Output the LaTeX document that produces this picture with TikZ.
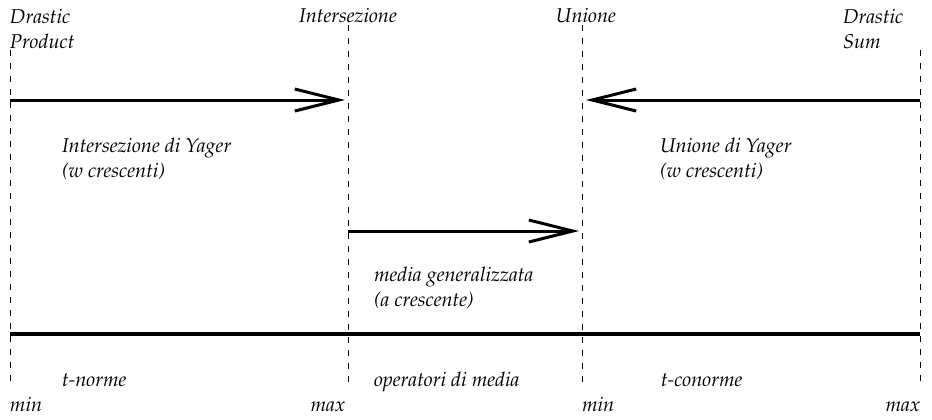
\documentclass[tikz,border=0pt]{standalone}
\usepackage[T1]{fontenc}
\usepackage{mathpazo}
\usetikzlibrary{arrows.meta}
\begin{document}
\begin{tikzpicture}[x=0.5pt,y=-0.5pt,
  every node/.style={inner sep=0pt,outer sep=0pt,font=\itshape\fontsize{10}{12.5}\selectfont,align=left},
  guide/.style={line width=0.4pt,dash pattern=on 3pt off 3.5pt},
  axis/.style={line width=1.6pt},
  trend/.style={line width=1.5pt,-{Straight Barb[length=22pt,width=11pt,line width=1.5pt]}}]
\useasboundingbox (0,0) rectangle (932,419);
% positions of the four reference operators
\coordinate (dpTop) at (10,50);   \coordinate (dpBot) at (10,383);
\coordinate (inTop) at (348,25);  \coordinate (inBot) at (348,383);
\coordinate (unTop) at (582,25);  \coordinate (unBot) at (582,383);
\coordinate (dsTop) at (920,50);  \coordinate (dsBot) at (920,383);
% dashed guides
\draw[guide] (dpTop) -- (dpBot);
\draw[guide] (inTop) -- (inBot);
\draw[guide] (unTop) -- (unBot);
\draw[guide] (dsTop) -- (dsBot);
% arrow end points
\coordinate (a1s) at (10,100);  \coordinate (a1e) at (345,100);
\coordinate (a2s) at (920,100); \coordinate (a2e) at (586,100);
\coordinate (a3s) at (348,231); \coordinate (a3e) at (579,231);
\coordinate (axL) at (10,334);  \coordinate (axR) at (920,334);
\draw[trend] (a1s) -- (a1e);
\draw[trend] (a2s) -- (a2e);
\draw[trend] (a3s) -- (a3e);
\draw[axis] (axL) -- (axR);
% labels on top (base anchor = baseline of the last line)
\node[anchor=base west] (dp) at (10,48) {Drastic\\Product};
\node[anchor=base] (in) at (348,22) {Intersezione};
\node[anchor=base] (un) at (586,22) {Unione};
\node[anchor=base west] (ds) at (843,48) {Drastic\\Sum};
% families
\node[anchor=base west] (yi) at (62,177) {Intersezione di Yager\\(w crescenti)};
\node[anchor=base west] (yu) at (660,177) {Unione di Yager\\(w crescenti)};
\node[anchor=base west] (mg) at (374,306) {media generalizzata\\(a crescente)};
% classes
\node[anchor=base west] (tn) at (62,386) {t-norme};
\node[anchor=base west] (om) at (374,386) {operatori di media};
\node[anchor=base west] (tc) at (661,386) {t-conorme};
% bounds
\node[anchor=base west] (m1) at (10,411) {min};
\node[anchor=base east] (m2) at (345,411) {max};
\node[anchor=base west] (m3) at (582,411) {min};
\node[anchor=base east] (m4) at (920,411) {max};
\end{tikzpicture}
\end{document}
